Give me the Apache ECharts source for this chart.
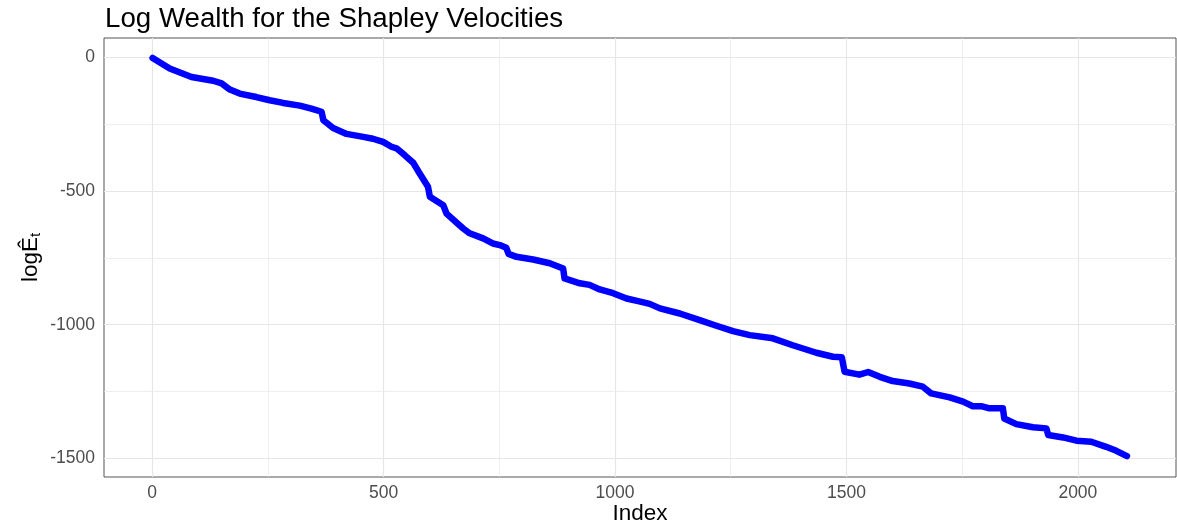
<!DOCTYPE html>
<html>
<head>
<meta charset="utf-8">
<script src="https://cdn.jsdelivr.net/npm/echarts@6/dist/echarts.min.js"></script>
<style>html,body{margin:0;padding:0;background:#fff}#c{width:1177px;height:527px}</style>
</head>
<body>
<div id="c"></div>
<script>
const idx = [1,38,85,132,150,168,189,225,254,283,319,344,366,370,391,420,456,477,499,517,528,546,564,578,596,600,629,636,672,686,715,736,751,765,770,787,823,859,888,891,924,945,967,996,1025,1050,1075,1097,1140,1183,1219,1255,1291,1341,1384,1435,1471,1490,1496,1528,1547,1572,1600,1636,1665,1683,1723,1752,1773,1791,1809,1838,1841,1867,1903,1932,1936,1968,1997,2029,2061,2083,2106];
const logWealth = [-2,-41,-73,-87,-97,-120,-135,-148,-160,-170,-180,-191,-203,-235,-264,-286,-297,-304,-316,-334,-340,-366,-394,-434,-484,-521,-553,-584,-640,-658,-677,-696,-702,-712,-735,-746,-756,-770,-790,-827,-845,-851,-868,-882,-902,-912,-922,-939,-958,-983,-1004,-1024,-1039,-1051,-1077,-1105,-1120,-1122,-1176,-1187,-1177,-1195,-1211,-1220,-1232,-1257,-1272,-1288,-1305,-1305,-1313,-1313,-1351,-1372,-1384,-1388,-1413,-1422,-1434,-1438,-1457,-1472,-1492];
const xTicks = [0,500,1000,1500,2000];
const xMinor = [250,750,1250,1750];
const yTicks = [0,-500,-1000,-1500];
const yMinor = [-250,-750,-1250];

const points = idx.map((v,i)=>[v, logWealth[i]]);
const font = 'Liberation Sans, Arial, Helvetica, sans-serif';
const chart = echarts.init(document.getElementById('c'));
const gl = (arr, key, w) => arr.map(v => ({[key]: v, lineStyle: {width: w}}));
chart.setOption({
  animation: false,
  title: {
    text: 'Log Wealth for the Shapley Velocities',
    left: 100, top: 0,
    textStyle: {fontFamily: font, fontSize: 27.7, fontWeight: 'normal', color: '#000'}
  },
  grid: {left: 104, right: 1, top: 38, bottom: 50, outerBoundsMode: 'none', containLabel: false, show: true, borderColor: '#555', borderWidth: 1, backgroundColor: 'transparent'},
  xAxis: {
    type: 'value', min: -104, max: 2212,
    name: 'Index', nameLocation: 'middle', nameGap: 25, nameMoveOverlap: false,
    nameTextStyle: {fontFamily: font, fontSize: 22.5, color: '#000'},
    axisLine: {show: false},
    axisTick: {show: true, length: 4, customValues: xTicks, lineStyle: {color: '#333'}},
    axisLabel: {customValues: xTicks, margin: 7, fontFamily: font, fontSize: 17.5, color: '#4d4d4d', formatter: v => String(v)},
    splitLine: {show: false}
  },
  yAxis: {
    type: 'value', min: -1570, max: 73,
    name: '{a|log}{b|Ê}{c|t}', nameLocation: 'middle', nameGap: 61, nameRotate: 90, nameMoveOverlap: false,
    nameTextStyle: {fontFamily: font, fontSize: 22.5, color: '#000',
      rich: {a: {fontFamily: font, fontSize: 22.5, color: '#000'}, b: {fontFamily: font, fontSize: 22.5, color: '#000'}, c: {fontFamily: font, fontSize: 15, color: '#000', verticalAlign: 'bottom', padding: [10,0,0,0]}}},
    axisLine: {show: false},
    axisTick: {show: true, length: 4, customValues: yTicks, lineStyle: {color: '#333'}},
    axisLabel: {customValues: yTicks, margin: 9, fontFamily: font, fontSize: 17.5, color: '#4d4d4d', formatter: v => String(v)},
    splitLine: {show: false}
  },
  series: [
    {
      type: 'line', data: [], z: 1, silent: true,
      markLine: {
        z: 1, silent: true, symbol: ['none','none'], label: {show: false}, animation: false,
        lineStyle: {type: 'solid', color: '#e6e6e6'},
        emphasis: {disabled: true},
        data: [].concat(gl(xMinor,'xAxis',0.7), gl(yMinor,'yAxis',0.7), gl(xTicks,'xAxis',1.2), gl(yTicks,'yAxis',1.2))
      }
    },
    {
      type: 'line', data: points, z: 10, showSymbol: false, smooth: false,
      lineStyle: {color: '#0000ff', width: 6.5, cap: 'round', join: 'round'}
    }
  ]
});
</script>
</body>
</html>
